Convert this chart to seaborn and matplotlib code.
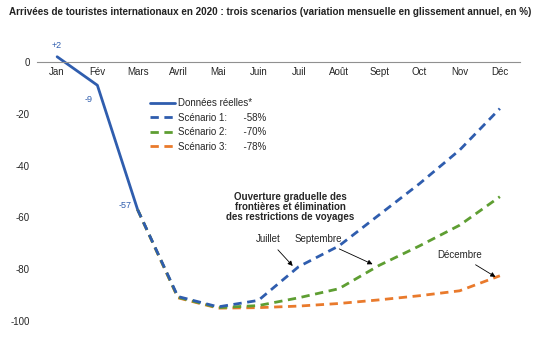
import matplotlib
matplotlib.use("Agg")
import matplotlib.pyplot as plt
import seaborn as sns
import pandas as pd
from matplotlib.lines import Line2D

months = ["Jan", "Fév", "Mars", "Avril", "Mai", "Juin", "Juil", "Août", "Sept", "Oct", "Nov", "Déc"]
actual_months = ["Jan", "Fév", "Mars"]
actual_values = [2, -9, -57]
scen_months = ["Mars", "Avril", "Mai", "Juin", "Juil", "Août", "Sept", "Oct", "Nov", "Déc"]
scen1 = [-57, -90.5, -94.5, -92, -79, -71, -59, -47, -34, -18]
scen2 = [-57, -90.8, -94.8, -94, -91, -87.5, -78.5, -71, -63, -52]
scen3 = [-57, -91, -95, -94.8, -94.2, -93.2, -91.8, -90.2, -88.3, -82.5]
scen_labels = ["Scénario 1:", "Scénario 2:", "Scénario 3:"]
scen_totals = ["-58%", "-70%", "-78%"]
point_labels = ["+2", "-9", "-57"]

c_blue = "#2F5DAE"
c_green = "#5E9E32"
c_orange = "#E97A2C"

sns.set_style("white")
plt.rcParams["font.family"] = ["Liberation Sans", "DejaVu Sans"]
plt.rcParams["axes.unicode_minus"] = False

fig = plt.figure(figsize=(5.35, 3.43), dpi=100)
ax = fig.add_axes([37/535, 0.026, (520-37)/535, 0.869])

pos = {m: i for i, m in enumerate(months)}
df_act = pd.DataFrame({"x": [pos[m] for m in actual_months], "y": actual_values})
sns.lineplot(data=df_act, x="x", y="y", ax=ax, color=c_blue, lw=2)
for vals, col in zip([scen3, scen2, scen1], [c_orange, c_green, c_blue]):
    d = pd.DataFrame({"x": [pos[m] for m in scen_months], "y": vals})
    sns.lineplot(data=d, x="x", y="y", ax=ax, color=col, lw=2, linestyle=(0, (3, 2)))

ax.set_xlim(-0.5, 11.5)
ax.set_ylim(-105, 10)
ax.set_xlabel("")
ax.set_ylabel("")
for s in ["top", "right", "left"]:
    ax.spines[s].set_visible(False)
ax.spines["bottom"].set_position(("data", 0))
ax.spines["bottom"].set_color("#909090")
ax.spines["bottom"].set_linewidth(0.8)
ax.set_xticks(range(len(months)))
ax.set_xticklabels(months)
ax.set_yticks([0, -20, -40, -60, -80, -100])
ax.tick_params(axis="x", length=0, pad=4, labelsize=7)
ax.tick_params(axis="y", length=0, pad=5, labelsize=7)

# data labels
offs = [(0, 8), (-6, -10), (-9, 3)]
for m, v, t, o in zip(actual_months, actual_values, point_labels, offs):
    ax.annotate(t, (pos[m], v), xytext=o, textcoords="offset points",
                ha="center", va="center", fontsize=6.5, color=c_blue)

# legend
handles = [Line2D([], [], color=c_blue, lw=2),
           Line2D([], [], color=c_blue, lw=2, linestyle=(0, (3, 2))),
           Line2D([], [], color=c_green, lw=2, linestyle=(0, (3, 2))),
           Line2D([], [], color=c_orange, lw=2, linestyle=(0, (3, 2)))]
labels = ["Données réelles*"] + [f"{a}      {b}" for a, b in zip(scen_labels, scen_totals)]
ax.legend(handles, labels, loc="upper left", bbox_to_anchor=(0.215, 0.82), frameon=False,
          fontsize=7, handlelength=2.6, handletextpad=0.3, labelspacing=0.45)

ax.text(pos["Juil"] - 0.2, -50, "Ouverture graduelle des\nfrontières et élimination\ndes restrictions de voyages",
        ha="center", va="top", fontsize=7, fontweight="bold", linespacing=1.05)

arrow = dict(arrowstyle="-|>", color="black", lw=0.6, mutation_scale=7)
ax.annotate("Juillet", xy=(pos["Juil"] - 0.1, -79.5), xytext=(pos["Juin"] + 0.25, -68.5),
            fontsize=7, ha="center", va="center", arrowprops=arrow)
ax.annotate("Septembre", xy=(pos["Sept"] - 0.1, -78.5), xytext=(pos["Août"] - 0.5, -68.5),
            fontsize=7, ha="center", va="center", arrowprops=arrow)
ax.annotate("Décembre", xy=(pos["Déc"] - 0.05, -83.5), xytext=(pos["Nov"], -74.5),
            fontsize=7, ha="center", va="center", arrowprops=arrow)

fig.text(0.505, 0.965, "Arrivées de touristes internationaux en 2020 : trois scenarios (variation mensuelle en glissement annuel, en %)",
         ha="center", va="center", fontsize=7.1, fontweight="bold", color="#222222")

fig.savefig("out.png", dpi=100)
